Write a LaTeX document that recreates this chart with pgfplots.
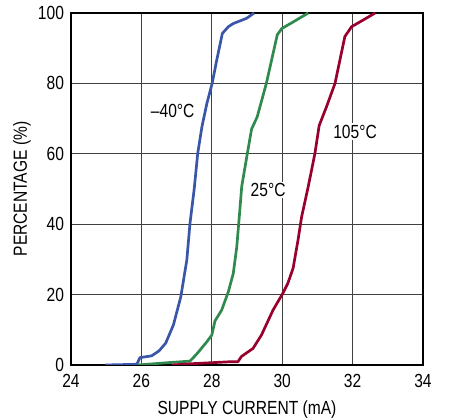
\documentclass[border=0pt]{standalone}
\usepackage{pgfplots}
\pgfplotsset{compat=1.18}
\usetikzlibrary{calc}
\usepackage{fontspec}
\setmainfont{Liberation Sans}[FakeStretch=0.82]
\newcommand{\cf}{\fontsize{19}{22}\selectfont}
\definecolor{cblue}{RGB}{58,86,168}
\definecolor{cgreen}{RGB}{48,138,78}
\definecolor{cred}{RGB}{152,0,46}
\begin{document}
\begin{tikzpicture}
\begin{axis}[
  scale only axis,
  width=352pt, height=352pt,
  xmin=24, xmax=34, ymin=0, ymax=100,
  xtick={24,26,...,34}, ytick={0,20,...,100},
  grid=major,
  major grid style={black!75, line width=0.9pt},
  axis line style={black, line width=1.6pt},
  major tick length=0pt,
  /pgf/number format/assume math mode=true,
  tick label style={font=\cf},
  xticklabel style={yshift=-6pt},
  yticklabel style={xshift=-3.5pt},
  xlabel={SUPPLY CURRENT (mA)},
  ylabel={PERCENTAGE (\%)},
  xlabel style={font=\cf, at={(axis description cs:0.5,-0.1)}, anchor=north, inner sep=0pt},
  ylabel style={font=\cf, at={(axis description cs:-0.139,0.5)}, anchor=center, inner sep=0pt},
  clip=true,
]
\addplot[cblue, line width=2.7pt, line join=round] coordinates {
(24.98,0) (25.87,0.2) (25.96,2.1) (26.29,2.6) (26.5,4.0) (26.69,6.2) (26.91,11.4) (27.12,19.4) (27.29,29.8) (27.38,40.2) (27.5,50) (27.6,60.1) (27.72,67.7) (27.86,74.3) (28.01,80) (28.14,86.6) (28.30,94.2) (28.47,96.1) (28.61,97) (28.99,98.5) (29.2,100)
};
\addplot[cgreen, line width=2.7pt, line join=round] coordinates {
(25.9,0) (26.81,0.7) (27.38,1.1) (27.57,3.1) (27.86,6.6) (28.0,8.5) (28.09,12.5) (28.28,15.6) (28.47,20.8) (28.61,26) (28.71,33.6) (28.78,42) (28.85,50.7) (29.01,60.1) (29.13,67) (29.29,70.5) (29.55,80) (29.86,93.8) (29.99,95.6) (30.32,97.5) (30.74,100)
};
\addplot[cred, line width=2.7pt, line join=round] coordinates {
(26.86,0) (27.5,0.4) (28.47,0.9) (28.74,0.9) (28.84,2.4) (29.17,4.7) (29.41,8.5) (29.74,15.6) (30.02,20.4) (30.16,23.2) (30.31,27.5) (30.45,35.5) (30.55,42) (30.74,50.7) (30.93,60.1) (31.05,68) (31.26,73.4) (31.5,80) (31.78,93.3) (31.97,96.1) (32.3,98) (32.64,100)
};
\node[font=\cf, inner sep=1pt] at (axis cs:26.89,72.2) {–40°C};
\node[font=\cf, fill=white, inner sep=1.5pt] at (axis cs:29.6,49.7) {25°C};
\node[font=\cf, fill=white, inner sep=1.5pt] at (axis cs:32.07,66.3) {105°C};
\end{axis}
\path ($(current axis.south west)+(-71pt,-52pt)$) rectangle ($(current axis.north east)+(33pt,13pt)$);
\end{tikzpicture}
\end{document}
